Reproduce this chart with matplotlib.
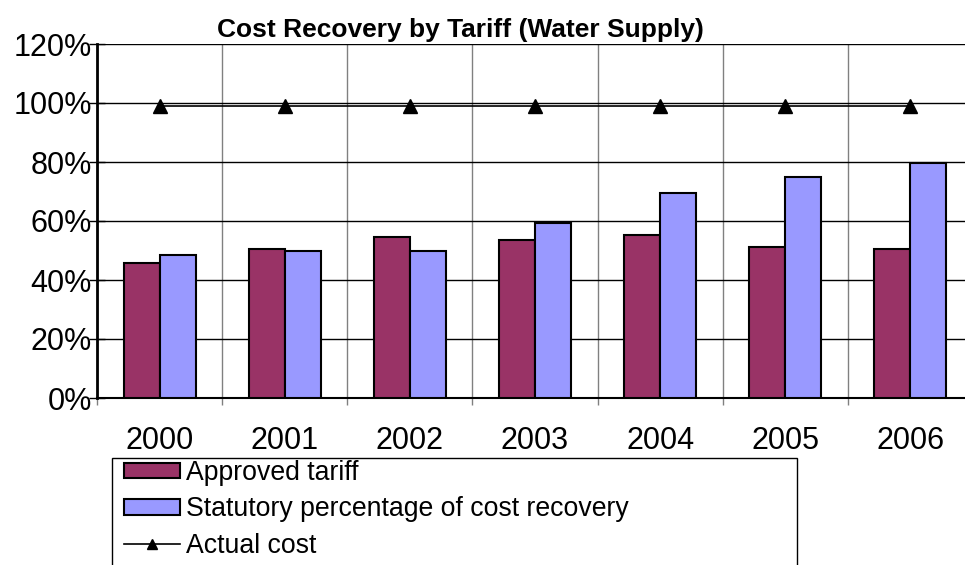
import matplotlib

matplotlib.use("Agg")
import matplotlib.pyplot as plt
from matplotlib.patches import Rectangle

plt.rcParams["font.family"] = ["Liberation Sans", "DejaVu Sans"]

years = ["2000", "2001", "2002", "2003", "2004", "2005", "2006"]
approved = [45.8, 50.4, 54.6, 53.4, 55.3, 51.1, 50.6]
statutory = [48.4, 49.8, 49.7, 59.4, 69.5, 74.9, 79.6]
actual = [99.1, 99.1, 99.1, 99.1, 99.1, 99.1, 99.1]
y_ticks = [0, 20, 40, 60, 80, 100, 120]

W, H = 965, 565
fig = plt.figure(figsize=(W / 100, H / 100), dpi=100)
ax = fig.add_axes([97 / W, 1 - 398 / H, (973 - 97) / W, (398 - 44) / H])

x = list(range(len(years)))
bw = 0.2875
b1 = ax.bar([i - bw / 2 for i in x], approved, width=bw, color="#993366",
            edgecolor="black", linewidth=1.5, label="Approved tariff", zorder=3)
b2 = ax.bar([i + bw / 2 for i in x], statutory, width=bw, color="#9999FF",
            edgecolor="black", linewidth=1.5,
            label="Statutory percentage of cost recovery", zorder=3)
ln, = ax.plot(x, actual, color="black", linewidth=1.2, marker="^",
              markersize=10, label="Actual cost", zorder=4)

ax.set_xlim(-0.5, len(years) - 0.5)
ax.set_ylim(0, 120)
ax.set_yticks(y_ticks)
ax.set_yticklabels([f"{v}%" for v in y_ticks])
ax.set_xticks(x)
ax.set_xticklabels(years)
ax.set_xticks([i - 0.5 for i in range(len(years) + 1)], minor=True)

ax.tick_params(axis="y", direction="inout", length=11.5, width=1,
               pad=-2, labelsize=22)
ax.tick_params(axis="x", which="major", length=0, pad=20, labelsize=22)
ax.tick_params(axis="x", which="minor", direction="out", length=5,
               width=1, color="#808080")

ax.grid(axis="y", which="major", color="black", linewidth=1, zorder=1)
ax.grid(axis="x", which="minor", color="#808080", linewidth=1, zorder=1)
ax.set_axisbelow(True)

for s in ["top", "right"]:
    ax.spines[s].set_visible(False)
ax.spines["left"].set_linewidth(2)
ax.spines["bottom"].set_linewidth(1.5)

fig.text(460 / W, 1 - 30 / H, "Cost Recovery by Tariff (Water Supply)",
         ha="center", va="center", fontsize=19, fontweight="bold")

fig.legend([b1, b2, ln],
           ["Approved tariff", "Statutory percentage of cost recovery",
            "Actual cost"],
           loc="upper left", bbox_to_anchor=(119 / W, 1 - 455 / H),
           frameon=False, fontsize=19.2, handlelength=2.1, handleheight=0.5,
           handletextpad=0.2, labelspacing=0.38, borderpad=0.2,
           borderaxespad=0, markerscale=0.7)
fig.add_artist(Rectangle((112 / W, -0.05), (797 - 112) / W,
                         (1 - 458 / H) + 0.05, transform=fig.transFigure,
                         fill=False, edgecolor="black", linewidth=1))

fig.savefig("out.png", dpi=100)
